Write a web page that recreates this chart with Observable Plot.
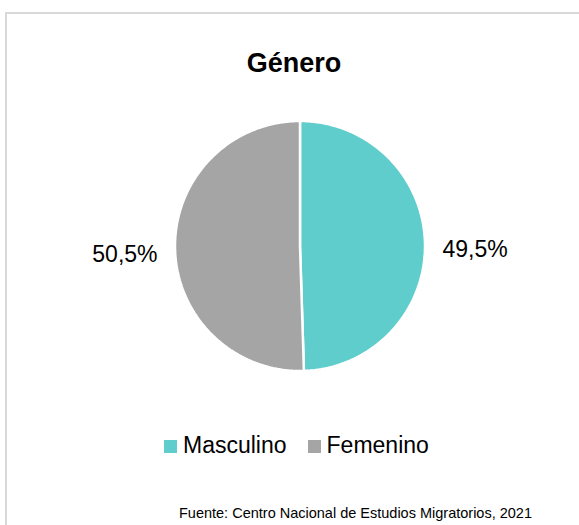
<!DOCTYPE html>
<html>
<head>
<meta charset="utf-8">
<script src="https://cdn.jsdelivr.net/npm/d3@7"></script>
<script src="https://cdn.jsdelivr.net/npm/@observablehq/plot@0.6"></script>
<style>
  html, body { margin: 0; padding: 0; background: #fff; }
  body { width: 579px; height: 525px; position: relative; overflow: hidden; font-family: "Liberation Sans", Arial, sans-serif; }
  .frame { position: absolute; left: 5px; top: 12px; width: 620px; height: 620px; border: 2px solid #d9d9d9; box-sizing: border-box; }
  .abs { position: absolute; white-space: nowrap; line-height: 1; color: #000; }
  #title { left: 0; width: 588px; top: 50px; text-align: center; font-size: 27px; font-weight: bold; }
  #legend { left: 164px; top: 433.5px; font-size: 23px; display: flex; align-items: center; }
  #legend .item { display: flex; align-items: center; }
  #legend .sw { width: 13px; height: 13px; margin-right: 6px; margin-top: 2px; }
  #caption { right: 47px; top: 505.7px; font-size: 14.5px; color: #000; }
  #chart { position: absolute; left: 0; top: 100px; }
</style>
</head>
<body>
<div class="frame"></div>
<div id="title" class="abs">Género</div>
<div id="chart"></div>
<div id="legend" class="abs"></div>
<div id="caption" class="abs">Fuente: Centro Nacional de Estudios Migratorios, 2021</div>
<script>
const title = "Género";
const categories = ["Masculino", "Femenino"];
const values = [49.5, 50.5];
const valueLabels = ["49,5%", "50,5%"];
const colors = ["#5fcdcb", "#a5a5a5"];

const arcs = d3.pie().sort(null).value(d => d)(values);

// slice outlines (unit circle, angles clockwise from 12 o'clock)
const slicePts = [];
arcs.forEach((a, i) => {
  const cat = categories[i];
  slicePts.push({cat, x: 0, y: 0});
  const n = 180;
  for (let k = 0; k <= n; k++) {
    const t = a.startAngle + (a.endAngle - a.startAngle) * k / n;
    slicePts.push({cat, x: Math.sin(t), y: Math.cos(t)});
  }
});

const labelR = 1.14;
const labelData = arcs.map((a, i) => {
  const m = (a.startAngle + a.endAngle) / 2;
  return {cat: categories[i], label: valueLabels[i], x: labelR * Math.sin(m), y: labelR * Math.cos(m)};
});

const W = 579, H = 290;
const plot = Plot.plot({
  width: W,
  height: H,
  marginLeft: 174.5,
  marginRight: 154.5,
  marginTop: 20.5,
  marginBottom: 19.5,
  x: {axis: null, domain: [-1, 1]},
  y: {axis: null, domain: [-1, 1]},
  color: {domain: categories, range: colors},
  style: {background: "transparent", fontFamily: "Liberation Sans, Arial, sans-serif"},
  marks: [
    Plot.line(slicePts, {x: "x", y: "y", z: "cat", fill: "cat", stroke: "white", strokeWidth: 2.5, curve: "linear-closed", strokeLinejoin: "miter"}),
    Plot.text(labelData.filter(d => d.x >= 0), {x: "x", y: "y", text: "label", textAnchor: "start", fontSize: 23, fill: "#000", dy: 6}),
    Plot.text(labelData.filter(d => d.x < 0), {x: "x", y: "y", text: "label", textAnchor: "end", fontSize: 23, fill: "#000", dy: 6})
  ]
});
document.getElementById("chart").appendChild(plot);

const legend = document.getElementById("legend");
categories.forEach((c, i) => {
  const item = document.createElement("div");
  item.className = "item";
  if (i > 0) item.style.marginLeft = "21px";
  const sw = document.createElement("div");
  sw.className = "sw";
  sw.style.background = colors[i];
  const tx = document.createElement("span");
  tx.textContent = c;
  item.appendChild(sw);
  item.appendChild(tx);
  legend.appendChild(item);
});
</script>
</body>
</html>
